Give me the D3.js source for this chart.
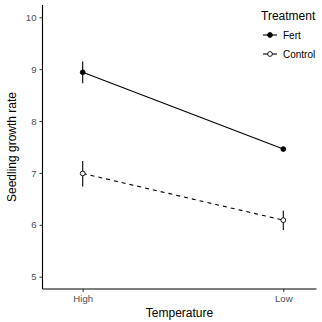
<!DOCTYPE html>
<html>
<head>
<meta charset="utf-8">
<script src="https://cdn.jsdelivr.net/npm/d3@7"></script>
<style>
  body { margin: 0; background: #fff; }
  text { font-family: "Liberation Sans", Arial, sans-serif; }
</style>
</head>
<body>
<div id="container"></div>
<script>
// Data
const temps = ["High", "Low"];
const treatments = ["Fert", "Control"];
const fertMean = [8.94, 7.46];
const fertLo = [8.73, 7.42];
const fertHi = [9.15, 7.50];
const ctrlMean = [6.99, 6.09];
const ctrlLo = [6.74, 5.90];
const ctrlHi = [7.23, 6.27];
const yTicks = [5, 6, 7, 8, 9, 10];

const width = 322, height = 322;
const padL = 42.5, padR = 316.5, padT = 5, padB = 289;

const svg = d3.select("div#container").append("svg")
  .attr("width", width).attr("height", height);

// Scales
const x = d3.scalePoint().domain(temps).range([82.7, 283.3]);
const y = d3.scaleLinear().domain([4.763, 10.237]).range([padB, padT]);

// Axes
const yAxis = svg.append("g").attr("transform", `translate(${padL},0)`)
  .call(d3.axisLeft(y).tickValues(yTicks).tickFormat(d3.format("d"))
    .tickSize(3).tickPadding(3).tickSizeOuter(0));
const xAxis = svg.append("g").attr("transform", `translate(0,${padB})`)
  .call(d3.axisBottom(x).tickSize(3).tickPadding(3).tickSizeOuter(0));
[xAxis, yAxis].forEach(a => {
  a.select(".domain").remove();
  a.selectAll(".tick line").attr("stroke", "#333").attr("stroke-width", 1);
  a.selectAll(".tick text").attr("fill", "#4d4d4d").style("font-size", "9.6px");
});
svg.append("line").attr("x1", padL).attr("x2", padL).attr("y1", padT).attr("y2", padB)
  .attr("stroke", "#000").attr("stroke-width", 1.1);
svg.append("line").attr("x1", padL).attr("x2", padR).attr("y1", padB).attr("y2", padB)
  .attr("stroke", "#000").attr("stroke-width", 1.1);

// Titles
svg.append("text").attr("x", (padL + padR) / 2).attr("y", 317)
  .attr("text-anchor", "middle").style("font-size", "12px").text("Temperature");
svg.append("text").attr("transform", `translate(16,${(padT + padB) / 2}) rotate(-90)`)
  .attr("text-anchor", "middle").style("font-size", "12px").text("Seedling growth rate");

// Series
const series = [
  { name: "Fert", mean: fertMean, lo: fertLo, hi: fertHi, fill: "#000", dash: null },
  { name: "Control", mean: ctrlMean, lo: ctrlLo, hi: ctrlHi, fill: "#fff", dash: "4,4" }
];

const line = d3.line().x((d, i) => x(temps[i])).y(d => y(d));

series.forEach(s => {
  const g = svg.append("g");
  g.append("path").datum(s.mean).attr("d", line)
    .attr("fill", "none").attr("stroke", "#000").attr("stroke-width", 1.1)
    .attr("stroke-dasharray", s.dash);
  g.selectAll("line.err").data(temps).enter().append("line")
    .attr("x1", d => x(d)).attr("x2", d => x(d))
    .attr("y1", (d, i) => y(s.lo[i])).attr("y2", (d, i) => y(s.hi[i]))
    .attr("stroke", "#000").attr("stroke-width", 1.1);
  g.selectAll("circle").data(s.mean).enter().append("circle")
    .attr("cx", (d, i) => x(temps[i])).attr("cy", d => y(d)).attr("r", 2.4)
    .attr("fill", s.fill).attr("stroke", "#000").attr("stroke-width", 0.9);
});

// Legend
const lg = svg.append("g");
lg.append("text").attr("x", 261).attr("y", 20).style("font-size", "12px").text("Treatment");
series.forEach((s, i) => {
  const ly = 35 + i * 19;
  lg.append("line").attr("x1", 263).attr("x2", 277).attr("y1", ly).attr("y2", ly)
    .attr("stroke", "#000").attr("stroke-width", 1.1);
  lg.append("circle").attr("cx", 270).attr("cy", ly).attr("r", 2.4)
    .attr("fill", s.fill).attr("stroke", "#000").attr("stroke-width", 0.9);
  lg.append("text").attr("x", 283).attr("y", ly + 3.5).style("font-size", "10px").text(s.name);
});
</script>
</body>
</html>
